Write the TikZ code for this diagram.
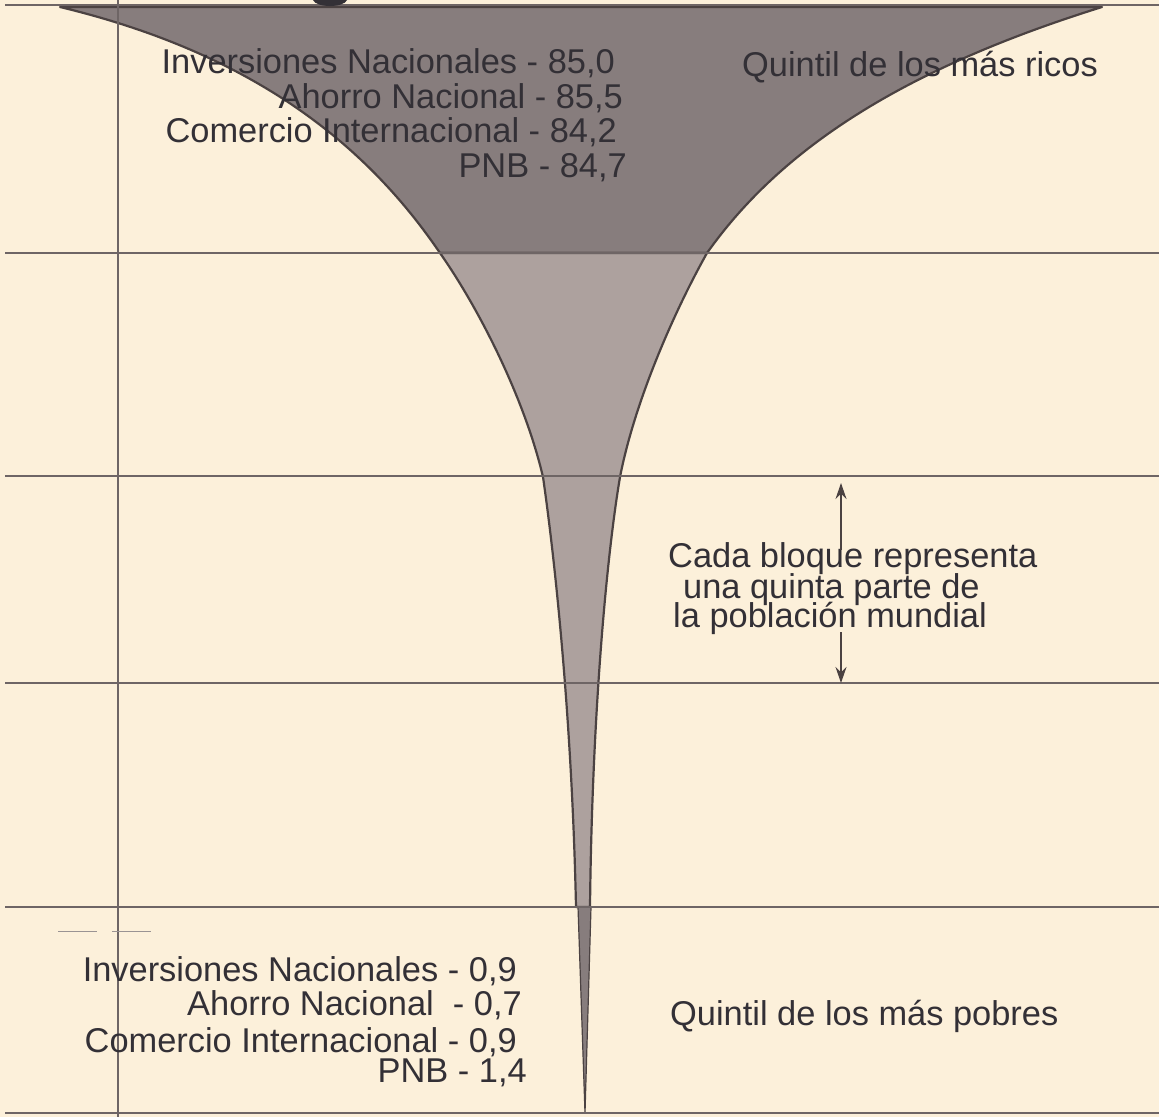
\documentclass[tikz,border=0pt]{standalone}
\usepackage{fontspec}
\setmainfont{Liberation Sans}
\usepackage{xcolor}
\usetikzlibrary{arrows.meta}

\definecolor{parchment}{HTML}{FCF0DA}
\definecolor{richgray}{HTML}{877D7D}
\definecolor{midgray}{HTML}{ADA19E}
\definecolor{edgegray}{HTML}{4B4242}
\definecolor{rulegray}{HTML}{6E6565}
\definecolor{txtgray}{HTML}{333036}

\tikzset{
	lbl/.style = {font=\fontsize{34.4}{34}\selectfont, text=txtgray, inner sep=0pt},
	rule/.style = {rulegray, line width=1.2pt},
	funnel/.style = {draw=edgegray, line width=2.2pt, line join=round}
}

\begin{document}
\begin{tikzpicture}[x=1pt, y=-1pt]
							\fill [parchment] (0,0) rectangle (1159,1117);
							\useasboundingbox (0,0) rectangle (1159,1117);

							\fill [richgray, funnel] (60,7) -- (1102,7) .. controls (900,70) and (780,150) .. (707,253) -- (440,253) .. controls (370,150) and (260,55) .. (60,7) -- cycle;
							\fill [midgray, funnel] (440,253) -- (707,253) .. controls (675,310) and (635,400) .. (620,477) .. controls (606,560) and (592,720) .. (590,907) -- (576,907) .. controls (572,720) and (555,560) .. (543,477) .. controls (525,400) and (480,310) .. (440,253) -- cycle;
							\fill [richgray, funnel, line width=1.2pt] (578,907) -- (591,907) -- (585,1113) -- cycle;

							\foreach \y in {5,253,476,683,907,1113}
							{
								\draw [rule] (5,\y) -- (1159,\y);
							}
							\draw [rule] (118,0) -- (118,1117);

							\fill [txtgray] (313,0) .. controls (316,8) and (344,8) .. (347,0) -- cycle;
							\draw [rulegray!70, line width=0.8pt] (58,931) -- (97,931) (112,931) -- (151,931);

							\node [lbl, anchor=base east] (invrich) at (615,73) {Inversiones Nacionales - 85,0};
							\node [lbl, anchor=base east] (ahorich) at (623,108) {Ahorro Nacional - 85,5};
							\node [lbl, anchor=base east] (comrich) at (617,142) {Comercio Internacional - 84,2};
							\node [lbl, anchor=base east] (pnbrich) at (627,177) {PNB - 84,7};
							\node [lbl, anchor=base west] (ricos) at (742,76) {Quintil de los más ricos};

							\node [lbl, anchor=base west] (bloque) at (668,567) {Cada bloque representa};
							\node [lbl, anchor=base west] (quinta) at (683,598) {una quinta parte de};
							\node [lbl, anchor=base west] (poblacion) at (673,627) {la población mundial};

							\coordinate (arrowtop) at (841,483);
							\coordinate (arrowbot) at (841,683);
							\begin{scope}[edgegray, line width=1.2pt, -{Stealth[length=16pt, width=11pt]}]
								\draw ([yshift=-8pt]bloque.north -| arrowtop) -- (arrowtop);
								\draw ([yshift=2pt]poblacion.south -| arrowbot) -- (arrowbot);
							\end{scope}

							\node [lbl, anchor=base east] (invpoor) at (517,981) {Inversiones Nacionales - 0,9};
							\node [lbl, anchor=base east] (ahopoor) at (522,1015) {Ahorro Nacional\ \ - 0,7};
							\node [lbl, anchor=base east] (compoor) at (517,1052) {Comercio Internacional - 0,9};
							\node [lbl, anchor=base east] (pnbpoor) at (527,1082) {PNB - 1,4};
							\node [lbl, anchor=base west] (pobres) at (670,1025) {Quintil de los más pobres};
						\end{tikzpicture}
\end{document}
